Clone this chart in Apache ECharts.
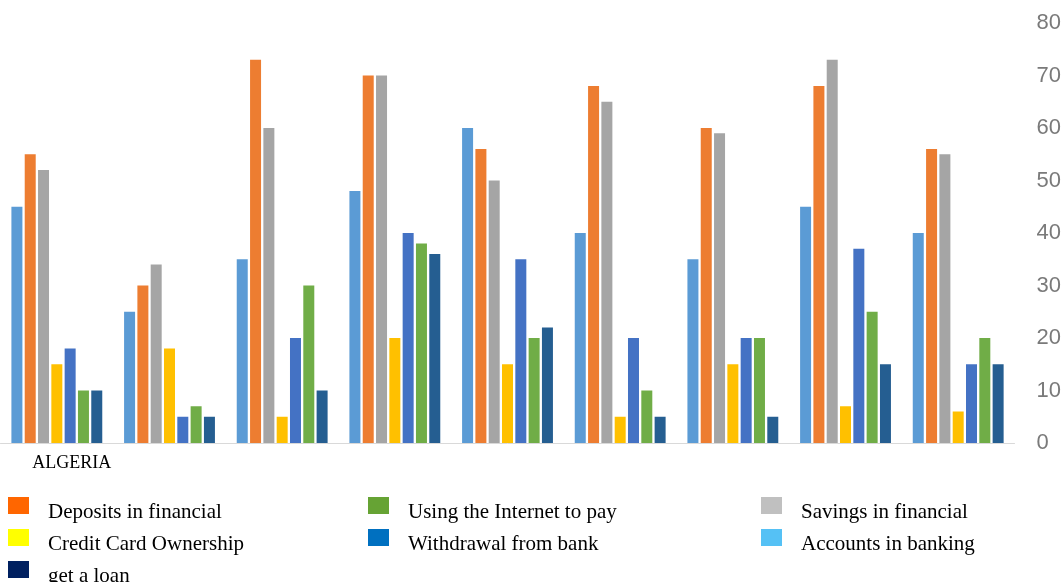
<!DOCTYPE html>
<html>
<head>
<meta charset="utf-8">
<script src="https://cdn.jsdelivr.net/npm/echarts@6/dist/echarts.min.js"></script>
<style>html,body{margin:0;padding:0;background:#fff}#c{width:1064px;height:582px}</style>
</head>
<body>
<div id="c"></div>
<script>
const categories = ['ALGERIA', '', '', '', '', '', '', '', ''];
const accounts   = [45, 25, 35, 48, 60, 40, 35, 45, 40];
const deposits   = [55, 30, 73, 70, 56, 68, 60, 68, 56];
const savings    = [52, 34, 60, 70, 50, 65, 59, 73, 55];
const creditCard = [15, 18, 5, 20, 15, 5, 15, 7, 6];
const withdrawal = [18, 5, 20, 40, 35, 20, 20, 37, 15];
const internet   = [10, 7, 30, 38, 20, 10, 20, 25, 20];
const loan       = [10, 5, 10, 36, 22, 5, 5, 15, 15];
const yTicks = [0, 10, 20, 30, 40, 50, 60, 70, 80];

const names = {
  accounts: 'Accounts in banking',
  deposits: 'Deposits in financial',
  savings: 'Savings in financial',
  credit: 'Credit Card Ownership',
  withdrawal: 'Withdrawal from bank',
  internet: 'Using the Internet to pay',
  loan: 'get a loan'
};
const barColors = {
  accounts: '#5B9BD5', deposits: '#ED7D31', savings: '#A5A5A5', credit: '#FFC000',
  withdrawal: '#4472C4', internet: '#70AD47', loan: '#255E91'
};
const legendColors = {
  accounts: '#55C1F5', deposits: '#FF6600', savings: '#C0C0C0', credit: '#FFFF00',
  withdrawal: '#0070C0', internet: '#66A334', loan: '#002060'
};

function bar(key, data) {
  return {
    name: names[key], type: 'bar', data: data, barWidth: 11, barGap: '21%',
    itemStyle: { color: barColors[key] }, emphasis: { disabled: true }
  };
}
function legendItem(key) {
  return { name: names[key], itemStyle: { color: legendColors[key], borderWidth: 0 } };
}
// square swatch sitting in the upper part of a taller item box, so the label sits lower
const swatch = 'path://M0,0L21,0L21,17L0,17Z M0,31L21,31';
const legendCommon = {
  orient: 'vertical', top: 497, height: 90, padding: 0,
  itemWidth: 21, itemHeight: 31, itemGap: 1,
  icon: swatch, selectedMode: false,
  textStyle: { fontFamily: 'Liberation Serif', fontSize: 21, color: '#000', padding: [0, 0, 0, 14] }
};

const chart = echarts.init(document.getElementById('c'), null, { renderer: 'canvas' });
chart.setOption({
  animation: false,
  backgroundColor: '#fff',
  grid: { left: 0.5, right: 45.5, top: 23, bottom: 139, containLabel: false },
  legend: [
    Object.assign({}, legendCommon, { left: 8, data: [legendItem('deposits'), legendItem('credit')] }),
    Object.assign({}, legendCommon, { left: 8, top: 561, data: [legendItem('loan')] }),
    Object.assign({}, legendCommon, { left: 368, data: [legendItem('internet'), legendItem('withdrawal')] }),
    Object.assign({}, legendCommon, { left: 761, data: [legendItem('savings'), legendItem('accounts')] })
  ],
  xAxis: {
    type: 'category', data: categories,
    axisLine: { lineStyle: { color: '#D9D9D9', width: 1 } },
    axisTick: { show: false },
    axisLabel: { fontFamily: 'Liberation Serif', fontSize: 18, color: '#000', margin: 11, padding: [0, 0, 0, 30], interval: 0 }
  },
  yAxis: {
    type: 'value', position: 'right', min: 0, max: 80, interval: 10,
    splitLine: { show: false }, axisLine: { show: false }, axisTick: { show: false },
    axisLabel: { fontFamily: 'Liberation Sans', fontSize: 22, color: '#7a7a7a', margin: 22,
      formatter: v => yTicks.indexOf(v) >= 0 ? String(v) : '' }
  },
  series: [
    bar('accounts', accounts),
    bar('deposits', deposits),
    bar('savings', savings),
    bar('credit', creditCard),
    bar('withdrawal', withdrawal),
    bar('internet', internet),
    bar('loan', loan)
  ]
});
</script>
</body>
</html>
